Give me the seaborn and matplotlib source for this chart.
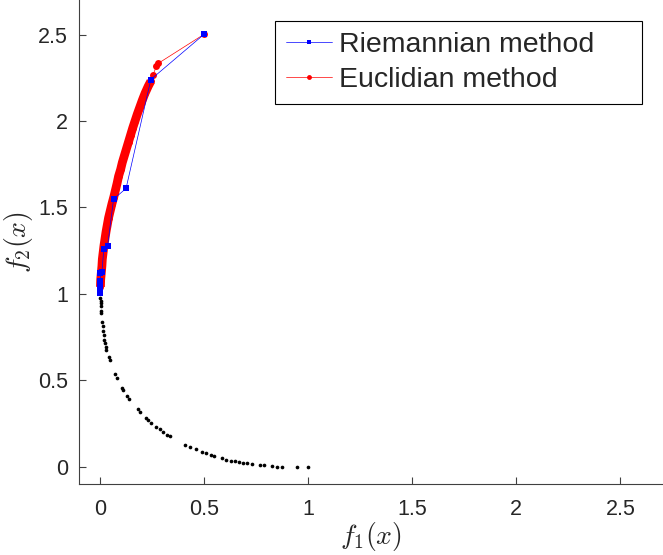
import numpy as np
import pandas as pd
import matplotlib
matplotlib.use('Agg')
import matplotlib.pyplot as plt
import seaborn as sns

# Pareto front (black dots)
front_f1 = [0.005, 0.005, 0.005, 0.008, 0.011, 0.014, 0.016, 0.019, 0.022, 0.026,
            0.029, 0.032, 0.046, 0.050, 0.075, 0.083, 0.106, 0.112, 0.131, 0.141,
            0.181, 0.191, 0.220, 0.232, 0.245, 0.272, 0.288, 0.304, 0.324, 0.338,
            0.410, 0.433, 0.460, 0.489, 0.508, 0.534, 0.550, 0.585, 0.604, 0.630,
            0.649, 0.670, 0.689, 0.705, 0.729, 0.769, 0.788, 0.825, 0.849, 0.873,
            0.946, 1.000, 0.003, 0.004]
front_f2 = [0.958, 0.929, 0.899, 0.890, 0.835, 0.812, 0.783, 0.763, 0.734, 0.715,
            0.695, 0.676, 0.633, 0.618, 0.536, 0.515, 0.458, 0.443, 0.410, 0.390,
            0.336, 0.317, 0.284, 0.268, 0.253, 0.229, 0.216, 0.200, 0.186, 0.175,
            0.128, 0.113, 0.103, 0.087, 0.082, 0.070, 0.064, 0.049, 0.041, 0.035,
            0.031, 0.025, 0.021, 0.019, 0.016, 0.010, 0.008, 0.002, 0.001, 0.000,
            0.000, 0.000, 0.975, 0.945]

# Riemannian method iterates
riem_f1 = [0.501, 0.245, 0.126, 0.066, 0.037, 0.019, 0.010, 0.003,
           0.002, 0.002, 0.002, 0.002, 0.002]
riem_f2 = [2.502, 2.240, 1.610, 1.548, 1.274, 1.257, 1.126, 1.119,
           1.074, 1.055, 1.035, 1.018, 1.005]

# Euclidian method iterates (start, tail, then the dense band)
euc_tail_f1 = [0.501, 0.280, 0.272, 0.256]
euc_tail_f2 = [2.502, 2.333, 2.317, 2.269]
euc_band_f1 = [0.245, 0.232, 0.217, 0.204, 0.192, 0.180, 0.169, 0.158, 0.148, 0.138,
               0.128, 0.118, 0.108, 0.100, 0.090, 0.083, 0.075, 0.067, 0.058, 0.050,
               0.042, 0.036, 0.030, 0.025, 0.020, 0.016, 0.012, 0.010, 0.007, 0.004,
               0.003]
euc_band_f2 = [2.23, 2.20, 2.16, 2.12, 2.08, 2.04, 2.00, 1.96, 1.92, 1.88,
               1.84, 1.80, 1.76, 1.72, 1.68, 1.64, 1.60, 1.56, 1.52, 1.48,
               1.44, 1.40, 1.36, 1.32, 1.28, 1.24, 1.20, 1.16, 1.12, 1.08,
               1.04]

ticks = [0, 0.5, 1, 1.5, 2, 2.5]
tick_labels = ['0', '0.5', '1', '1.5', '2', '2.5']

sns.set_theme(style="ticks")
plt.rcParams['font.family'] = ['Liberation Sans', 'DejaVu Sans']
plt.rcParams['mathtext.fontset'] = 'cm'

fig = plt.figure(figsize=(6.63, 5.55), dpi=100)
ax = fig.add_axes([79 / 663, 71 / 555, 583 / 663, 484 / 555])

front = pd.DataFrame({'f1': front_f1, 'f2': front_f2})
sns.scatterplot(data=front, x='f1', y='f2', color='black', s=7,
                linewidth=0, ax=ax, legend=False, zorder=2)

euc = pd.DataFrame({'f1': euc_tail_f1 + euc_band_f1,
                    'f2': euc_tail_f2 + euc_band_f2})
sns.lineplot(data=euc, x='f1', y='f2', sort=False, estimator=None,
             color='red', linewidth=0.5, marker='o', markersize=5,
             markeredgewidth=0, ax=ax, label='Euclidian method', zorder=3)
band = pd.DataFrame({'f1': euc_band_f1, 'f2': euc_band_f2})
sns.lineplot(data=band, x='f1', y='f2', sort=False, estimator=None,
             color='red', linewidth=6.3, solid_capstyle='butt', ax=ax,
             legend=False, zorder=3)

riem = pd.DataFrame({'f1': riem_f1, 'f2': riem_f2})
sns.lineplot(data=riem, x='f1', y='f2', sort=False, estimator=None,
             color='blue', linewidth=0.5, alpha=1, marker='s', markersize=5,
             markeredgewidth=0, ax=ax, label='Riemannian method', zorder=4)

ax.set_xlim(-0.1, 2.7)
ax.set_ylim(-0.1, 2.7)
ax.set_xticks(ticks)
ax.set_xticklabels(tick_labels)
ax.set_yticks(ticks)
ax.set_yticklabels(tick_labels)
ax.tick_params(direction='in', length=5, width=0.8, color='#404040',
               labelcolor='#262626', labelsize=15.5)
ax.tick_params(axis='x', pad=11)
ax.tick_params(axis='y', pad=8)
sns.despine(ax=ax)
for sp in ['left', 'bottom']:
    ax.spines[sp].set_color('#404040')
    ax.spines[sp].set_linewidth(0.8)

ax.set_xlabel(r'$f_1(x)$', fontsize=20, color='#262626', labelpad=0)
ax.set_ylabel(r'$f_2(x)$', fontsize=20, color='#262626', labelpad=2)

handles, labels = ax.get_legend_handles_labels()
order = [labels.index('Riemannian method'), labels.index('Euclidian method')]
leg = ax.legend([handles[i] for i in order], [labels[i] for i in order],
                loc='upper left', bbox_to_anchor=(0.336, 0.791, 0.63, 0.166),
                mode='expand', borderaxespad=0, fontsize=20.5, frameon=True,
                fancybox=False, framealpha=1, edgecolor='black',
                handlelength=1.6, handletextpad=0.25, labelspacing=0.3,
                borderpad=0.4, markerscale=0.7)
leg.get_frame().set_linewidth(0.8)
for line in leg.get_lines():
    line.set_linewidth(0.5)

fig.savefig('out.png', dpi=100)
